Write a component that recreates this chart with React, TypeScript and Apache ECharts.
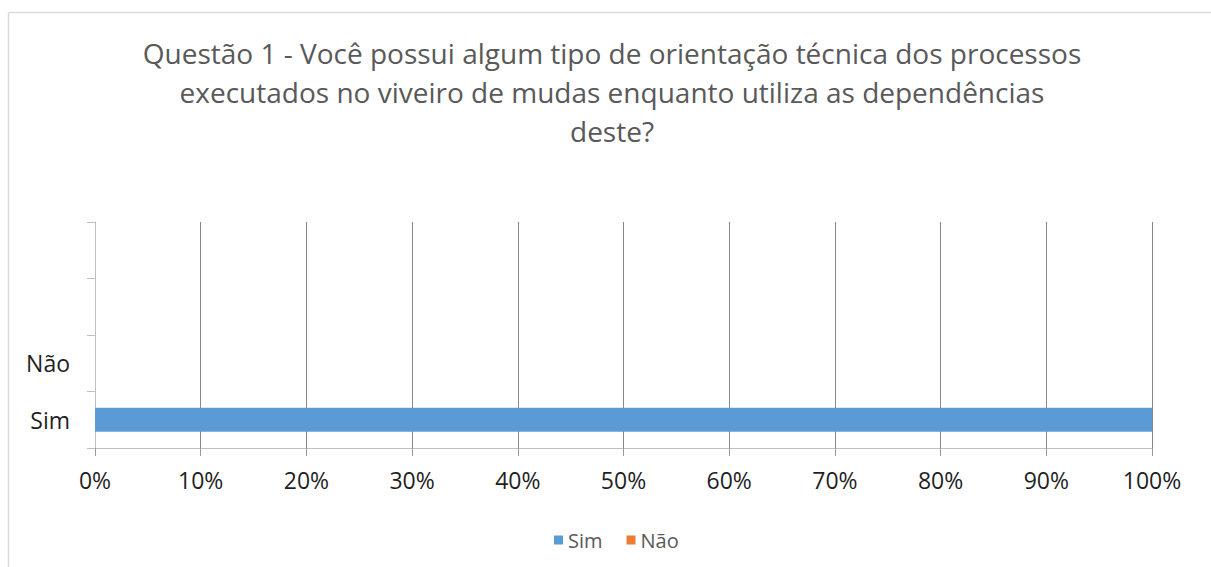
import React, { useEffect, useRef } from "react";
import * as echarts from "echarts";

const titleLines = [
  "Questão 1 - Você possui algum tipo de orientação técnica dos processos",
  "executados no viveiro de mudas enquanto utiliza as dependências",
  "deste?",
];
const categories = ["Sim", "Não", "", ""];
const seriesNames = ["Sim", "Não"];
const simValues = [100, 0, 0, 0];
const naoValues = [0, 0, 0, 0];
const xTicks = [0, 100, 10]; // min, max, interval (percent)

const FONT = "'Open Sans', sans-serif";

export default function App() {
  const ref = useRef<HTMLDivElement>(null);
  useEffect(() => {
    document.body.style.margin = "0";
    const chart = echarts.init(ref.current!, null, { renderer: "svg" });
    chart.setOption({
      animation: false,
      backgroundColor: "#ffffff",
      textStyle: { fontFamily: FONT },
      graphic: [
        {
          type: "line",
          shape: { x1: 8.5, y1: 12.5, x2: 1211, y2: 12.5 },
          style: { stroke: "#d9d9d9", lineWidth: 1.5 },
        },
        {
          type: "line",
          shape: { x1: 8.5, y1: 12.5, x2: 8.5, y2: 567 },
          style: { stroke: "#d9d9d9", lineWidth: 1.5 },
        },
        {
          type: "text",
          x: 612,
          y: 33,
          style: {
            text: titleLines.join("\n"),
            font: `28px ${FONT}`,
            fill: "#595959",
            textAlign: "center",
            textVerticalAlign: "top",
            lineHeight: 39,
          },
        },
      ],
      legend: {
        data: seriesNames,
        left: 549,
        top: 525,
        itemWidth: 9,
        itemHeight: 9,
        itemGap: 24,
        icon: "rect",
        textStyle: { color: "#595959", fontSize: 20, fontFamily: FONT },
      },
      grid: { left: 95, right: 59, top: 222, bottom: 119, containLabel: false },
      xAxis: {
        type: "value",
        min: xTicks[0],
        max: xTicks[1],
        interval: xTicks[2],
        axisLine: { show: true, lineStyle: { color: "#bfbfbf", width: 1 } },
        axisTick: { show: true, length: 8, lineStyle: { color: "#9a9a9a" } },
        splitLine: { show: true, lineStyle: { color: "#888888", width: 1 } },
        axisLabel: {
          formatter: "{value}%",
          color: "#1f1f1f",
          fontSize: 23,
          fontFamily: FONT,
          margin: 20,
        },
      },
      yAxis: {
        type: "category",
        data: categories,
        axisLine: { show: true, lineStyle: { color: "#bfbfbf", width: 1 } },
        axisTick: { show: true, length: 8, alignWithLabel: false, lineStyle: { color: "#bfbfbf" } },
        axisLabel: { color: "#1f1f1f", fontSize: 23, fontFamily: FONT, margin: 25 },
        splitLine: { show: false },
      },
      series: [
        {
          name: seriesNames[0],
          type: "bar",
          stack: "total",
          data: simValues,
          barWidth: 24,
          itemStyle: { color: "#5B9BD5" },
        },
        {
          name: seriesNames[1],
          type: "bar",
          stack: "total",
          data: naoValues,
          barWidth: 24,
          itemStyle: { color: "#ED7D31" },
        },
      ],
    });
    return () => chart.dispose();
  }, []);
  return <div ref={ref} style={{ width: 1211, height: 567 }} />;
}
